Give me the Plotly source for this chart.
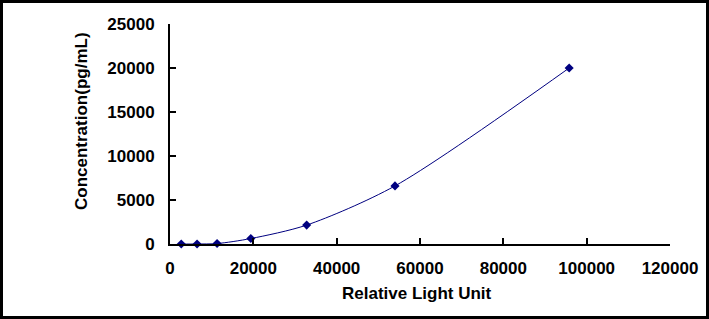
import plotly.graph_objects as go

rlu = [2700, 6500, 11300, 19400, 32800, 54000, 95800]
conc = [0, 0, 50, 620, 2150, 6600, 20000]
x_ticks = [0, 20000, 40000, 60000, 80000, 100000, 120000]
y_ticks = [0, 5000, 10000, 15000, 20000, 25000]

W, H = 709, 319
L, R, T, B = 170, 39, 24, 75
pw, ph = W - L - R, H - T - B

def px(xp):
    return (xp - L) / pw

def py(yp):
    return (H - B - yp) / ph

fig = go.Figure()
fig.add_trace(go.Scatter(
    x=rlu, y=conc, mode="lines+markers",
    line=dict(color="#000080", width=1, shape="spline", smoothing=0.8),
    marker=dict(symbol="diamond", size=7, color="#000080"),
    showlegend=False, cliponaxis=False,
))

font = dict(family="Liberation Sans, Arial", size=17, color="black", weight="bold")
tfont = dict(family="Liberation Sans, Arial", size=17, color="black", weight="bold")
fig.update_layout(
    width=W, height=H,
    margin=dict(l=L, r=R, t=T, b=B, pad=0),
    paper_bgcolor="white", plot_bgcolor="white",
    xaxis=dict(range=[0, 120000], tickvals=x_ticks, ticktext=[str(v) for v in x_ticks],
               showgrid=False, zeroline=False, showline=True, linecolor="black", linewidth=2,
               ticks="inside", ticklen=6, tickwidth=2, tickcolor="black",
               tickfont=font, ticklabelstandoff=8),
    yaxis=dict(range=[0, 25000], tickvals=y_ticks, ticktext=[str(v) for v in y_ticks],
               showgrid=False, zeroline=False, showline=True, linecolor="black", linewidth=2,
               ticks="inside", ticklen=6, tickwidth=2, tickcolor="black",
               tickfont=font, ticklabelstandoff=10),
    annotations=[
        dict(text="Relative Light Unit", x=px(417), y=py(293), xref="paper", yref="paper",
             showarrow=False, xanchor="center", yanchor="middle", font=tfont),
        dict(text="Concentration(pg/mL)", x=px(81), y=py(121), xref="paper", yref="paper",
             showarrow=False, xanchor="center", yanchor="middle", textangle=-90, font=tfont),
    ],
    shapes=[dict(type="rect", xref="paper", yref="paper",
                 x0=px(1.5), x1=px(707.5), y0=py(317.5), y1=py(1.5),
                 line=dict(color="black", width=3))],
)
fig.write_html("out.html")
